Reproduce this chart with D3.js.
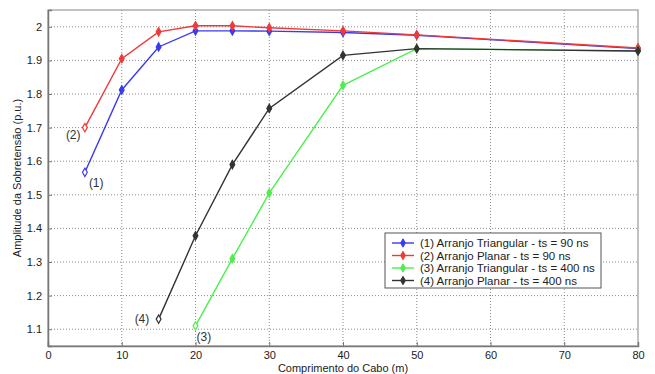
<!DOCTYPE html>
<html>
<head>
<meta charset="utf-8">
<script src="https://cdn.jsdelivr.net/npm/d3@7"></script>
<style>
  body { margin: 0; background: #fff; }
  text { font-family: "Liberation Sans", Arial, sans-serif; }
</style>
</head>
<body>
<script>
var width = 655,
  height = 374;

// data
var xTicks = [0, 10, 20, 30, 40, 50, 60, 70, 80];
var yTicks = [1.1, 1.2, 1.3, 1.4, 1.5, 1.6, 1.7, 1.8, 1.9, 2];

var xTri90 = [5, 10, 15, 20, 25, 30, 40, 50, 80];
var yTri90 = [1.567, 1.812, 1.94, 1.988, 1.988, 1.987, 1.983, 1.975, 1.935];

var xPla90 = [5, 10, 15, 20, 25, 30, 40, 50, 80];
var yPla90 = [1.70, 1.905, 1.985, 2.003, 2.003, 1.997, 1.988, 1.976, 1.937];

var xTri400 = [20, 25, 30, 40, 50, 80];
var yTri400 = [1.11, 1.31, 1.505, 1.826, 1.935, 1.928];

var xPla400 = [15, 20, 25, 30, 40, 50, 80];
var yPla400 = [1.13, 1.378, 1.59, 1.757, 1.915, 1.935, 1.928];

var names = [
  "(1) Arranjo Triangular - ts = 90 ns",
  "(2) Arranjo Planar - ts = 90 ns",
  "(3) Arranjo Triangular - ts = 400 ns",
  "(4) Arranjo Planar - ts = 400 ns"
];
var colors = ["#3a3af0", "#f03a3a", "#4cf04c", "#333333"];

var series = [
  {x: xTri90, y: yTri90},
  {x: xPla90, y: yPla90},
  {x: xTri400, y: yTri400},
  {x: xPla400, y: yPla400}
];

// curve tags: [series index, point index, label, dx, dy]
var tags = [
  [0, 0, "(1)", 4, 15],
  [1, 0, "(2)", -19, 11],
  [2, 0, "(3)", 1, 15],
  [3, 0, "(4)", -24, 4]
];

var margin = {top: 10, right: 17, bottom: 28, left: 48};
var w = width - margin.left - margin.right,
  h = height - margin.top - margin.bottom;

var svg = d3.select("body").append("svg")
  .attr("width", width)
  .attr("height", height);

var g = svg.append("g")
  .attr("transform", "translate(" + margin.left + "," + margin.top + ")");

var x = d3.scaleLinear().domain([0, 80]).range([0, w]);
var y = d3.scaleLinear().domain([1.05, 2.05]).range([h, 0]);

// grid
g.append("g").selectAll("line")
  .data(xTicks.slice(1, -1))
  .enter().append("line")
  .attr("x1", d => x(d)).attr("x2", d => x(d))
  .attr("y1", 0).attr("y2", h)
  .attr("stroke", "#8a8a8a")
  .attr("stroke-width", 1)
  .attr("stroke-dasharray", "1,2");

g.append("g").selectAll("line")
  .data(yTicks)
  .enter().append("line")
  .attr("x1", 0).attr("x2", w)
  .attr("y1", d => y(d)).attr("y2", d => y(d))
  .attr("stroke", "#8a8a8a")
  .attr("stroke-width", 1)
  .attr("stroke-dasharray", "1,2");

// frame
g.append("rect")
  .attr("width", w).attr("height", h)
  .attr("fill", "none")
  .attr("stroke", "#9a9a9a")
  .attr("stroke-width", 1.2);

// axes (ticks inward, matlab style)
var xAxis = g.append("g")
  .attr("transform", "translate(0," + h + ")")
  .call(d3.axisBottom(x).tickValues(xTicks).tickSize(-4).tickPadding(5).tickFormat(d3.format("d")));
var yAxis = g.append("g")
  .call(d3.axisLeft(y).tickValues(yTicks).tickSize(-4).tickPadding(6).tickFormat(d => d === 2 ? "2" : d3.format(".1f")(d)));

[xAxis, yAxis].forEach(function(a) {
  a.select(".domain").attr("stroke", "#777").attr("stroke-width", 1.5);
  a.selectAll(".tick line").attr("stroke", "#777");
  a.selectAll(".tick text")
    .attr("font-size", 11)
    .attr("font-family", "Liberation Sans, Arial, sans-serif")
    .attr("fill", "#222");
});

// lines
var line = d3.line()
  .x(d => x(d[0]))
  .y(d => y(d[1]));

var diamond = d3.symbol().type(d3.symbolDiamond).size(20);

series.forEach(function(s, i) {
  var pts = s.x.map((v, k) => [v, s.y[k]]);
  g.append("path")
    .datum(pts)
    .attr("d", line)
    .attr("fill", "none")
    .attr("stroke", colors[i])
    .attr("stroke-width", 1.4);
  g.append("g").selectAll("path")
    .data(pts)
    .enter().append("path")
    .attr("d", diamond)
    .attr("transform", d => "translate(" + x(d[0]) + "," + y(d[1]) + ")")
    .attr("fill", (d, k) => k === 0 ? "#fff" : colors[i])
    .attr("stroke", colors[i])
    .attr("stroke-width", 1.2);
});

// curve tags
tags.forEach(function(t) {
  var s = series[t[0]];
  g.append("text")
    .attr("x", x(s.x[t[1]]) + t[3])
    .attr("y", y(s.y[t[1]]) + t[4])
    .attr("font-size", 12)
    .attr("fill", "#333")
    .text(t[2]);
});

// legend
var lg = svg.append("g").attr("transform", "translate(385,233)");
lg.append("rect")
  .attr("width", 216).attr("height", 55)
  .attr("fill", "#fff")
  .attr("stroke", "#555")
  .attr("stroke-width", 1);

names.forEach(function(n, i) {
  var yy = 10 + i * 12.5;
  lg.append("line")
    .attr("x1", 7).attr("x2", 29)
    .attr("y1", yy).attr("y2", yy)
    .attr("stroke", colors[i])
    .attr("stroke-width", 1.4);
  lg.append("path")
    .attr("d", diamond)
    .attr("transform", "translate(18," + yy + ")")
    .attr("fill", colors[i])
    .attr("stroke", colors[i]);
  lg.append("text")
    .attr("x", 35)
    .attr("y", yy + 4)
    .attr("font-size", 11.5)
    .attr("fill", "#222")
    .text(n);
});

// axis titles
svg.append("text")
  .attr("x", margin.left + w / 2)
  .attr("y", 372)
  .attr("text-anchor", "middle")
  .attr("font-size", 11)
  .attr("fill", "#222")
  .text("Comprimento do Cabo (m)");

svg.append("text")
  .attr("transform", "translate(21," + (margin.top + h / 2) + ") rotate(-90)")
  .attr("text-anchor", "middle")
  .attr("font-size", 11)
  .attr("fill", "#222")
  .text("Amplitude da Sobretensão (p.u.)");
</script>
</body>
</html>
